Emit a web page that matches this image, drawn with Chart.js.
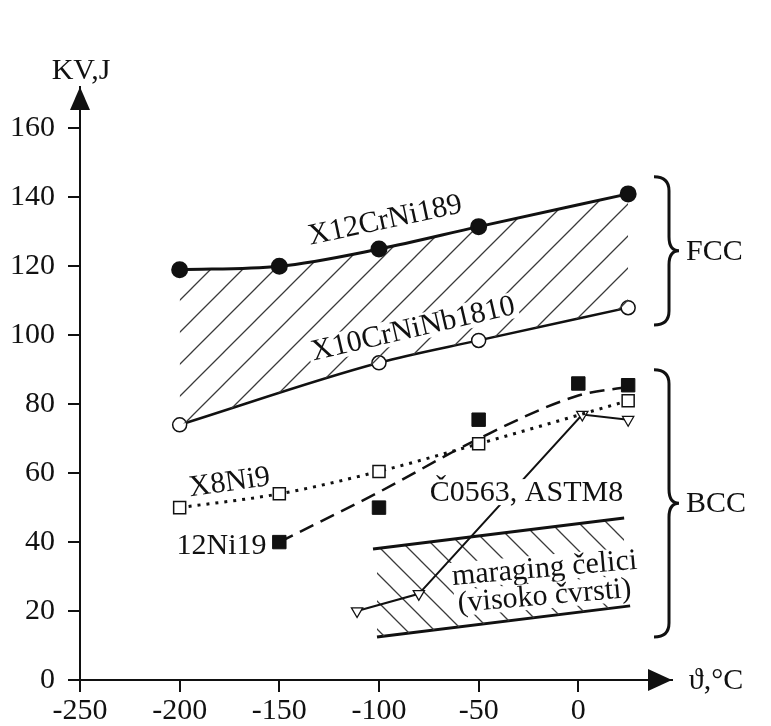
<!DOCTYPE html>
<html>
<head>
<meta charset="utf-8">
<script src="https://cdn.jsdelivr.net/npm/chart.js@4.4.1/dist/chart.umd.min.js"></script>
<style>
  html, body { margin: 0; padding: 0; background: #fff; }
</style>
</head>
<body>
<canvas id="chart" width="771" height="726"></canvas>
<script>
// Tick labels
const xTicks = [-250, -200, -150, -100, -50, 0];
const yTicks = [0, 20, 40, 60, 80, 100, 120, 140, 160];

// X12CrNi189 (FCC, filled circles)
const x12X = [-200, -150, -100, -50, 25];
const x12Y = [119, 120, 125, 131.5, 141];

// X10CrNiNb1810 (FCC, open circles)
const x10X = [-200, -100, -50, 25];
const x10Y = [74, 92, 98.5, 108];

// X8Ni9 (open squares, dotted)
const x8X = [-200, -150, -100, -50, 25];
const x8Y = [50, 54, 60.5, 68.5, 81];

// 12Ni19 (filled squares + dashed trend)
const ni19X = [-150, -100, -50, 0, 25];
const ni19Y = [40, 50, 75.5, 86, 85.5];
const ni19TrendX = [-150, -100, -50, 0, 25];
const ni19TrendY = [40, 54.5, 70, 82.5, 85];

// Č0563, ASTM8 (open triangles)
const c0563X = [-111, -80, 2, 25];
const c0563Y = [20, 25, 77, 75.5];

// maraging čelici band
const marTopX = [-103, 23];
const marTopY = [38, 47];
const marBotX = [-101, 26];
const marBotY = [12.5, 21.5];

// FCC / BCC brace spans (y values)
const bracesY = [[146, 103], [90, 12.5]];
const braceNames = ['FCC', 'BCC'];

const pts = (xs, ys) => xs.map((x, i) => ({ x: x, y: ys[i] }));

const canvas = document.getElementById('chart');
const ctx = canvas.getContext('2d');

// hatch pattern, dir 1 = '/', -1 = '\'
function hatch(size, dir) {
  const c = document.createElement('canvas');
  c.width = size; c.height = size;
  const g = c.getContext('2d');
  g.strokeStyle = '#3a3a3a';
  g.lineWidth = 1.3;
  g.beginPath();
  if (dir > 0) {
    g.moveTo(0, size); g.lineTo(size, 0);
    g.moveTo(-2, 2); g.lineTo(2, -2);
    g.moveTo(size - 2, size + 2); g.lineTo(size + 2, size - 2);
  } else {
    g.moveTo(0, 0); g.lineTo(size, size);
    g.moveTo(-2, size - 2); g.lineTo(2, size + 2);
    g.moveTo(size - 2, -2); g.lineTo(size + 2, 2);
  }
  g.stroke();
  return ctx.createPattern(c, 'repeat');
}

const INK = '#111';
const FONT = '"Liberation Serif", "DejaVu Serif", serif';

// annotation texts
const notes = [
  { text: 'X12CrNi189', x: -97, y: 133.5, rot: -12 },
  { text: 'X10CrNiNb1810', x: -83, y: 102, rot: -13, box: true },
  { text: 'X8Ni9', x: -175, y: 57.5, rot: -8 },
  { text: '12Ni19', x: -179, y: 39, rot: 0 },
  { text: 'Č0563, ASTM8', x: -26, y: 54.5, rot: 0, box: true },
  { text: 'maraging čelici', x: -17, y: 32.5, rot: -5, box: true },
  { text: '(visoko čvrsti)', x: -17, y: 24.5, rot: -5, box: true }
];

const decor = {
  id: 'decor',
  afterDatasetsDraw(chart) {
    const c = chart.ctx;
    const xs = chart.scales.x, ys = chart.scales.y;
    const a = chart.chartArea;
    c.save();
    c.fillStyle = INK;
    c.strokeStyle = INK;

    // arrow heads
    c.beginPath();
    c.moveTo(a.left, a.top);
    c.lineTo(a.left - 10, a.top + 23);
    c.lineTo(a.left + 10, a.top + 23);
    c.closePath();
    c.fill();
    c.beginPath();
    c.moveTo(a.right, a.bottom);
    c.lineTo(a.right - 24, a.bottom - 11);
    c.lineTo(a.right - 24, a.bottom + 11);
    c.closePath();
    c.fill();

    c.font = '30px ' + FONT;
    c.textAlign = 'center';
    c.textBaseline = 'middle';
    c.fillText('KV,J', a.left + 1, a.top - 16);
    c.fillText('ϑ,°C', a.right + 44, a.bottom + 1);

    // labels
    notes.forEach(n => {
      const px = xs.getPixelForValue(n.x), py = ys.getPixelForValue(n.y);
      c.save();
      c.translate(px, py);
      c.rotate(n.rot * Math.PI / 180);
      if (n.box) {
        const w = c.measureText(n.text).width;
        c.fillStyle = '#fff';
        c.fillRect(-w / 2 - 3, -13, w + 6, 26);
      }
      c.fillStyle = INK;
      c.fillText(n.text, 0, 1);
      c.restore();
    });

    // braces
    c.lineWidth = 3;
    bracesY.forEach((span, i) => {
      const y0 = ys.getPixelForValue(span[0]);
      const y1 = ys.getPixelForValue(span[1]);
      const ym = (y0 + y1) / 2;
      const x0 = a.right - 18, xm = a.right - 3, xt = a.right + 7;
      const r = 14;
      c.beginPath();
      c.moveTo(x0, y0);
      c.quadraticCurveTo(xm, y0, xm, y0 + r);
      c.lineTo(xm, ym - r);
      c.quadraticCurveTo(xm, ym, xt, ym);
      c.quadraticCurveTo(xm, ym, xm, ym + r);
      c.lineTo(xm, y1 - r);
      c.quadraticCurveTo(xm, y1, x0, y1);
      c.stroke();
      c.textAlign = 'left';
      c.fillText(braceNames[i], xt + 7, ym + 1);
    });
    c.restore();
  }
};

const tickFont = { family: FONT, size: 30 };

new Chart(ctx, {
  type: 'line',
  data: {
    datasets: [
      {
        label: 'X12CrNi189',
        data: pts(x12X, x12Y),
        borderColor: INK, borderWidth: 3,
        pointStyle: 'circle', pointRadius: 7,
        pointBackgroundColor: INK, pointBorderColor: INK,
        cubicInterpolationMode: 'monotone',
        fill: '+1',
        backgroundColor: hatch(32, 1)
      },
      {
        label: 'X10CrNiNb1810',
        data: pts(x10X, x10Y),
        borderColor: INK, borderWidth: 2.5,
        pointStyle: 'circle', pointRadius: 7,
        pointBackgroundColor: '#fff', pointBorderColor: INK, pointBorderWidth: 1.5,
        cubicInterpolationMode: 'monotone',
        fill: false
      },
      {
        label: 'X8Ni9',
        data: pts(x8X, x8Y),
        borderColor: INK, borderWidth: 3, borderDash: [3, 6],
        pointStyle: 'rect', pointRadius: 8.5,
        pointBackgroundColor: '#fff', pointBorderColor: INK, pointBorderWidth: 1.5,
        cubicInterpolationMode: 'monotone',
        fill: false
      },
      {
        label: '12Ni19 trend',
        data: pts(ni19TrendX, ni19TrendY),
        borderColor: INK, borderWidth: 2.5, borderDash: [15, 8],
        pointRadius: 0,
        cubicInterpolationMode: 'monotone',
        fill: false
      },
      {
        label: '12Ni19',
        data: pts(ni19X, ni19Y),
        showLine: false,
        pointStyle: 'rect', pointRadius: 9.5,
        pointBackgroundColor: INK, pointBorderColor: INK,
        fill: false
      },
      {
        label: 'Č0563, ASTM8',
        data: pts(c0563X, c0563Y),
        borderColor: INK, borderWidth: 2,
        pointStyle: 'triangle', pointRotation: 180, pointRadius: 6.5,
        pointBackgroundColor: '#fff', pointBorderColor: INK, pointBorderWidth: 1.3,
        tension: 0,
        fill: false
      },
      {
        label: 'maraging top',
        data: pts(marTopX, marTopY),
        borderColor: INK, borderWidth: 3, pointRadius: 0,
        fill: '+1',
        backgroundColor: hatch(28, -1)
      },
      {
        label: 'maraging bottom',
        data: pts(marBotX, marBotY),
        borderColor: INK, borderWidth: 3, pointRadius: 0,
        fill: false
      }
    ]
  },
  options: {
    responsive: false,
    animation: false,
    layout: { padding: { top: 87, right: 99, left: 0, bottom: 0 } },
    plugins: {
      legend: { display: false },
      tooltip: { enabled: false }
    },
    scales: {
      x: {
        type: 'linear', min: -250, max: 47,
        afterBuildTicks: s => { s.ticks = xTicks.map(v => ({ value: v })); },
        afterFit: s => { s.height = 46; },
        border: { display: true, color: INK, width: 2 },
        grid: { drawOnChartArea: false, drawTicks: true, tickLength: 12, color: INK, tickColor: INK, lineWidth: 2 },
        ticks: { font: tickFont, color: INK, padding: 1, autoSkip: false, maxRotation: 0, callback: v => String(v) }
      },
      y: {
        type: 'linear', min: 0, max: 172,
        afterBuildTicks: s => { s.ticks = yTicks.map(v => ({ value: v })); },
        afterFit: s => { s.width = 80; },
        border: { display: true, color: INK, width: 2 },
        grid: { drawOnChartArea: false, drawTicks: true, tickLength: 12, color: INK, tickColor: INK, lineWidth: 2 },
        ticks: { font: tickFont, color: INK, padding: 13, callback: v => String(v) }
      }
    }
  },
  plugins: [decor]
});
</script>
</body>
</html>
